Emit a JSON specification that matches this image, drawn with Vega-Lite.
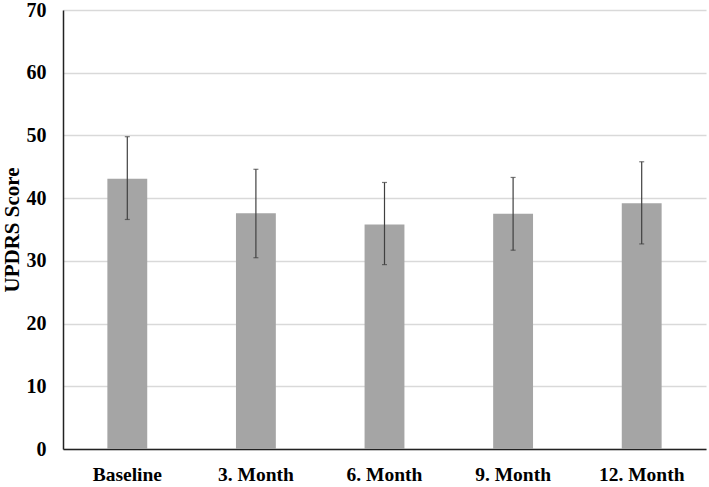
{
  "$schema": "https://vega.github.io/schema/vega-lite/v6.json",
  "width": 643,
  "height": 439,
  "autosize": {"type": "none"},
  "padding": {"left": 63, "top": 10, "right": 3, "bottom": 38},
  "background": "white",
  "config": {
    "view": {"stroke": null},
    "font": "Liberation Serif"
  },
  "data": {
    "values": [
      {"time": "Baseline", "mean": 43.1, "lower": 36.6, "upper": 49.8},
      {"time": "3. Month", "mean": 37.6, "lower": 30.5, "upper": 44.6},
      {"time": "6. Month", "mean": 35.8, "lower": 29.4, "upper": 42.5},
      {"time": "9. Month", "mean": 37.5, "lower": 31.7, "upper": 43.3},
      {"time": "12. Month", "mean": 39.2, "lower": 32.7, "upper": 45.8}
    ]
  },
  "encoding": {
    "x": {
      "field": "time",
      "type": "nominal",
      "sort": null,
      "scale": {"paddingInner": 0.69, "paddingOuter": 0.345},
      "axis": {
        "title": null,
        "labelAngle": 0,
        "labelFont": "Liberation Serif",
        "labelFontWeight": "bold",
        "labelFontSize": 19.5,
        "labelColor": "black",
        "labelPadding": 16,
        "ticks": false,
        "domainColor": "#222222",
        "domainWidth": 1.5
      }
    }
  },
  "layer": [
    {
      "mark": {"type": "bar", "color": "#a5a5a5"},
      "encoding": {
        "y": {
          "field": "mean",
          "type": "quantitative",
          "scale": {"domain": [0, 70]},
          "axis": {
            "title": "UPDRS Score",
            "titleFont": "Liberation Serif",
            "titleFontWeight": "bold",
            "titleFontSize": 21,
            "titleColor": "black",
            "titlePadding": 4,
            "values": [0, 10, 20, 30, 40, 50, 60, 70],
            "labelFont": "Liberation Serif",
            "labelFontWeight": "bold",
            "labelFontSize": 20,
            "labelColor": "black",
            "labelPadding": 17,
            "ticks": false,
            "domainColor": "#222222",
            "domainWidth": 1.5,
            "gridColor": "#d9d9d9",
            "gridWidth": 1.5
          }
        }
      }
    },
    {
      "mark": {"type": "rule", "color": "#404040", "strokeWidth": 1.2},
      "encoding": {
        "y": {"field": "lower", "type": "quantitative"},
        "y2": {"field": "upper"}
      }
    },
    {
      "mark": {"type": "tick", "color": "#404040", "size": 5, "thickness": 1.2, "orient": "horizontal"},
      "encoding": {
        "y": {"field": "upper", "type": "quantitative"}
      }
    },
    {
      "mark": {"type": "tick", "color": "#404040", "size": 5, "thickness": 1.2, "orient": "horizontal"},
      "encoding": {
        "y": {"field": "lower", "type": "quantitative"}
      }
    }
  ]
}
